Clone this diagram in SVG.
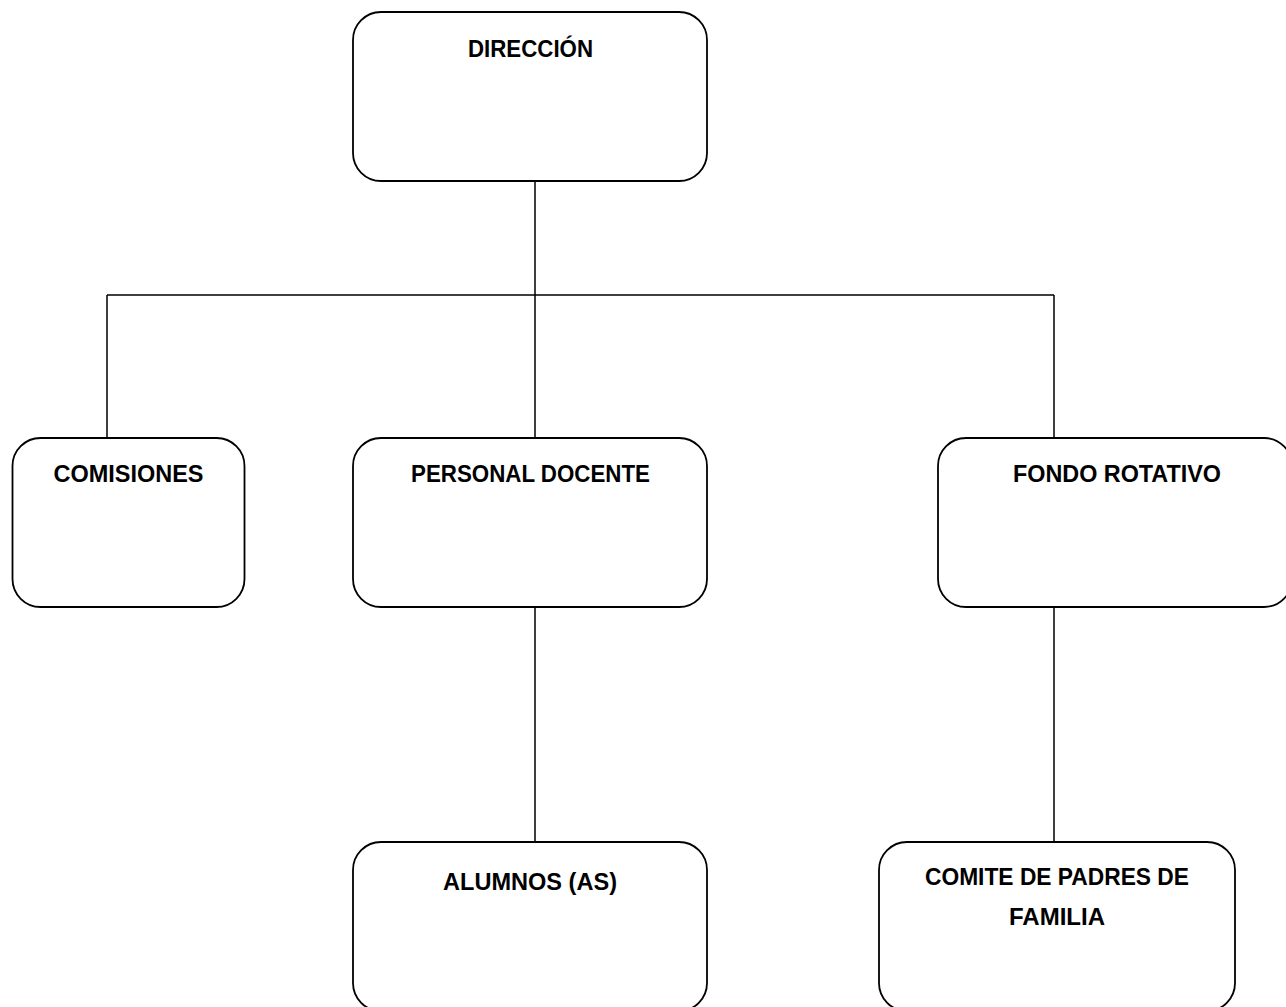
<svg xmlns="http://www.w3.org/2000/svg" width="1286" height="1007" viewBox="0 0 1286 1007">
<style>
.box{fill:#fff;stroke:#000;stroke-width:1.8}
.ln{fill:none;stroke:#000;stroke-width:1.5}
.t{font-family:"Liberation Sans",Arial,sans-serif;font-weight:bold;font-size:23px;fill:#000;text-anchor:middle}
</style>
<rect width="1286" height="1007" fill="#fff"/>
<g id="connectors">
<path class="ln" d="M535 182V295M107 295H1054M107 295V438M535 295V438M1054 295V438M535 607V842M1054 607V842"/>
</g>
<g id="direccion"><rect class="box" x="353" y="12" width="354" height="169" rx="28"/><text class="t" x="530.5" y="57" textLength="125" lengthAdjust="spacingAndGlyphs">DIRECCIÓN</text></g>
<g id="comisiones"><rect class="box" x="12.5" y="438" width="232" height="169" rx="28"/><text class="t" x="128.5" y="482" textLength="150" lengthAdjust="spacingAndGlyphs">COMISIONES</text></g>
<g id="personal-docente"><rect class="box" x="353" y="438" width="354" height="169" rx="28"/><text class="t" x="530.5" y="482" textLength="239" lengthAdjust="spacingAndGlyphs">PERSONAL DOCENTE</text></g>
<g id="fondo-rotativo"><rect class="box" x="938" y="438" width="354" height="169" rx="28"/><text class="t" x="1117" y="482" textLength="208" lengthAdjust="spacingAndGlyphs">FONDO ROTATIVO</text></g>
<g id="alumnos"><rect class="box" x="353" y="842" width="354" height="169" rx="28"/><text class="t" x="530" y="890" textLength="174" lengthAdjust="spacingAndGlyphs">ALUMNOS (AS)</text></g>
<g id="comite"><rect class="box" x="879" y="842" width="356" height="169" rx="28"/><text class="t" x="1057" y="885" textLength="264" lengthAdjust="spacingAndGlyphs">COMITE DE PADRES DE</text><text class="t" x="1057" y="925" textLength="96" lengthAdjust="spacingAndGlyphs">FAMILIA</text></g>
</svg>
